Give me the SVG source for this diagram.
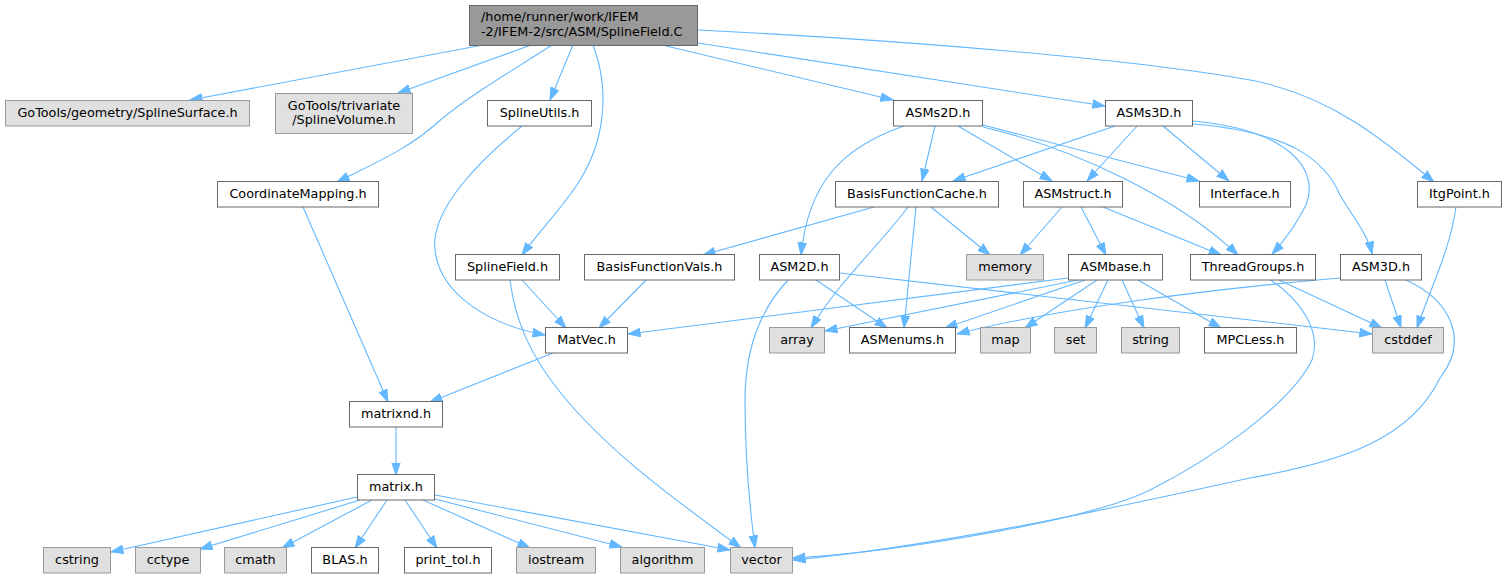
<svg xmlns="http://www.w3.org/2000/svg" width="1507" height="579" viewBox="0 0 1507 579">
<style>
.w{fill:#ffffff;stroke:#666666;stroke-width:1}
.g{fill:#e0e0e0;stroke:#999999;stroke-width:1}
.r{fill:#999999;stroke:#666666;stroke-width:1}
text{font-family:"DejaVu Sans","Liberation Sans",sans-serif;font-size:12.8px;fill:#000000;text-anchor:middle}
.e{fill:none;stroke:#63b8ff;stroke-width:1.1;marker-end:url(#arr)}
</style>
<defs>
<marker id="arr" markerUnits="userSpaceOnUse" markerWidth="13" markerHeight="10" viewBox="0 0 13 10" refX="12.5" refY="5" orient="auto">
<path d="M0,0.7 L12.5,5 L0,9.3 z" fill="#63b8ff" stroke="#63b8ff" stroke-width="1"/>
</marker>
</defs>
<rect width="1507" height="579" fill="#ffffff"/>
<g id="edges">
<path class="e" d="M483,45 L190,100"/>
<path class="e" d="M531,45 L398,93"/>
<path class="e" d="M552,45 C510,72 470,95 438,122 C410,148 375,163 337,182"/>
<path class="e" d="M573,45 L550,100"/>
<path class="e" d="M593,45 C610,90 605,140 580,180 C565,205 540,230 522,255"/>
<path class="e" d="M662,45 L893,100"/>
<path class="e" d="M698,43 L1105,106"/>
<path class="e" d="M698,30 C900,40 1150,60 1260,82 C1340,100 1395,150 1434,182"/>
<path class="e" d="M522,126 C480,160 430,210 435,250 C440,295 490,325 545,335"/>
<path class="e" d="M303,207 L388,402"/>
<path class="e" d="M522,280 L566,328"/>
<path class="e" d="M510,280 C515,320 530,355 560,392 C610,455 690,510 741,548"/>
<path class="e" d="M646,280 L599,328"/>
<path class="e" d="M935,126 L922,181"/>
<path class="e" d="M904,126 C840,148 808,185 801,255"/>
<path class="e" d="M958,126 L1052,181"/>
<path class="e" d="M983,125 L1199,181"/>
<path class="e" d="M983,127 C1080,150 1180,200 1238,255"/>
<path class="e" d="M1115,126 L953,181"/>
<path class="e" d="M1137,126 L1087,181"/>
<path class="e" d="M1163,126 L1229,181"/>
<path class="e" d="M1193,121 C1290,130 1320,170 1306,205 C1296,225 1285,240 1272,254"/>
<path class="e" d="M1193,124 C1290,132 1325,160 1340,195 C1355,220 1368,235 1372,254"/>
<path class="e" d="M874,207 L703,255"/>
<path class="e" d="M908,207 C880,245 840,280 811,328"/>
<path class="e" d="M916,207 L904,328"/>
<path class="e" d="M931,207 L990,255"/>
<path class="e" d="M1062,207 L1020,255"/>
<path class="e" d="M1081,207 L1106,255"/>
<path class="e" d="M1103,207 L1221,255"/>
<path class="e" d="M788,280 C760,310 745,350 745,400 C745,460 750,510 755,548"/>
<path class="e" d="M816,280 L887,328"/>
<path class="e" d="M840,273 L1372,334"/>
<path class="e" d="M1068,278 L628,334"/>
<path class="e" d="M1078,280 L825,331"/>
<path class="e" d="M1085,280 L945,328"/>
<path class="e" d="M1097,280 L1025,328"/>
<path class="e" d="M1108,280 L1085,328"/>
<path class="e" d="M1122,280 L1144,328"/>
<path class="e" d="M1138,280 L1221,328"/>
<path class="e" d="M1279,280 L1382,328"/>
<path class="e" d="M1271,280 C1300,300 1322,330 1312,360 C1290,405 1210,460 1150,490 C1090,520 900,552 793,558"/>
<path class="e" d="M1385,280 L1401,328"/>
<path class="e" d="M1340,278 C1200,290 1050,310 957,334"/>
<path class="e" d="M1406,280 C1450,300 1470,340 1440,378 C1410,440 1340,462 1250,478 C1150,500 950,545 793,560"/>
<path class="e" d="M1456,207 C1450,250 1430,290 1417,328"/>
<path class="e" d="M553,353 L430,402"/>
<path class="e" d="M396,427 L396,475"/>
<path class="e" d="M357,497 L111,552"/>
<path class="e" d="M360,500 L200,549"/>
<path class="e" d="M372,500 L282,548"/>
<path class="e" d="M387,500 L355,548"/>
<path class="e" d="M405,500 L437,548"/>
<path class="e" d="M423,500 L530,548"/>
<path class="e" d="M435,499 L622,547"/>
<path class="e" d="M435,495 L730,550"/>
</g>
<g id="n0"><rect class="r" x="469.5" y="5.5" width="228" height="40"/><text x="481" y="20.5" style="text-anchor:start">/home/runner/work/IFEM</text><text x="481" y="35.5" style="text-anchor:start">-2/IFEM-2/src/ASM/SplineField.C</text></g>
<g id="n1"><rect class="g" x="5.5" y="100.5" width="244" height="25.5"/><text x="127.5" y="117">GoTools/geometry/SplineSurface.h</text></g>
<g id="n2"><rect class="g" x="275.5" y="93.5" width="137" height="40"/><text x="344" y="109.5">GoTools/trivariate</text><text x="344" y="123.5">/SplineVolume.h</text></g>
<g id="n3"><rect class="w" x="487.5" y="100.5" width="104" height="25.5"/><text x="539.5" y="117">SplineUtils.h</text></g>
<g id="n4"><rect class="w" x="893.5" y="100.5" width="89" height="25.5"/><text x="938" y="117">ASMs2D.h</text></g>
<g id="n5"><rect class="w" x="1105.5" y="100.5" width="87" height="25.5"/><text x="1149" y="117">ASMs3D.h</text></g>
<g id="n6"><rect class="w" x="217.5" y="181.5" width="161" height="25.5"/><text x="298" y="198">CoordinateMapping.h</text></g>
<g id="n7"><rect class="w" x="835.5" y="181.5" width="163" height="25.5"/><text x="917" y="198">BasisFunctionCache.h</text></g>
<g id="n8"><rect class="w" x="1023.5" y="181.5" width="99" height="25.5"/><text x="1073" y="198">ASMstruct.h</text></g>
<g id="n9"><rect class="w" x="1199.5" y="181.5" width="91" height="25.5"/><text x="1245" y="198">Interface.h</text></g>
<g id="n10"><rect class="w" x="1417.5" y="181.5" width="84" height="25.5"/><text x="1459.5" y="198">ItgPoint.h</text></g>
<g id="n11"><rect class="w" x="455.5" y="254.5" width="104" height="25.5"/><text x="507.5" y="271">SplineField.h</text></g>
<g id="n12"><rect class="w" x="584.5" y="254.5" width="150" height="25.5"/><text x="659.5" y="271">BasisFunctionVals.h</text></g>
<g id="n13"><rect class="w" x="759.5" y="254.5" width="80" height="25.5"/><text x="799.5" y="271">ASM2D.h</text></g>
<g id="n14"><rect class="g" x="966.5" y="254.5" width="77" height="25.5"/><text x="1005" y="271">memory</text></g>
<g id="n15"><rect class="w" x="1068.5" y="254.5" width="94" height="25.5"/><text x="1115.5" y="271">ASMbase.h</text></g>
<g id="n16"><rect class="w" x="1190.5" y="254.5" width="125" height="25.5"/><text x="1253" y="271">ThreadGroups.h</text></g>
<g id="n17"><rect class="w" x="1340.5" y="254.5" width="81" height="25.5"/><text x="1381" y="271">ASM3D.h</text></g>
<g id="n18"><rect class="w" x="545.5" y="327.5" width="82" height="25.5"/><text x="586.5" y="344">MatVec.h</text></g>
<g id="n19"><rect class="g" x="769.5" y="327.5" width="55" height="25.5"/><text x="797" y="344">array</text></g>
<g id="n20"><rect class="w" x="849.5" y="327.5" width="106" height="25.5"/><text x="902.5" y="344">ASMenums.h</text></g>
<g id="n21"><rect class="g" x="980.5" y="327.5" width="50" height="25.5"/><text x="1005.5" y="344">map</text></g>
<g id="n22"><rect class="g" x="1054.5" y="327.5" width="42" height="25.5"/><text x="1075.5" y="344">set</text></g>
<g id="n23"><rect class="g" x="1121.5" y="327.5" width="58" height="25.5"/><text x="1150.5" y="344">string</text></g>
<g id="n24"><rect class="w" x="1204.5" y="327.5" width="92" height="25.5"/><text x="1250.5" y="344">MPCLess.h</text></g>
<g id="n25"><rect class="g" x="1372.5" y="327.5" width="71" height="25.5"/><text x="1408" y="344">cstddef</text></g>
<g id="n26"><rect class="w" x="349.5" y="401.5" width="93" height="25.5"/><text x="396" y="418">matrixnd.h</text></g>
<g id="n27"><rect class="w" x="357.5" y="474.5" width="77" height="25.5"/><text x="396" y="491">matrix.h</text></g>
<g id="n28"><rect class="g" x="43.5" y="547.5" width="67" height="25.5"/><text x="77" y="564">cstring</text></g>
<g id="n29"><rect class="g" x="135.5" y="547.5" width="65" height="25.5"/><text x="168" y="564">cctype</text></g>
<g id="n30"><rect class="g" x="224.5" y="547.5" width="62" height="25.5"/><text x="255.5" y="564">cmath</text></g>
<g id="n31"><rect class="w" x="311.5" y="547.5" width="67" height="25.5"/><text x="345" y="564">BLAS.h</text></g>
<g id="n32"><rect class="w" x="404.5" y="547.5" width="87" height="25.5"/><text x="448" y="564">print_tol.h</text></g>
<g id="n33"><rect class="g" x="516.5" y="547.5" width="79" height="25.5"/><text x="556" y="564">iostream</text></g>
<g id="n34"><rect class="g" x="620.5" y="547.5" width="84" height="25.5"/><text x="662.5" y="564">algorithm</text></g>
<g id="n35"><rect class="g" x="730.5" y="547.5" width="62" height="25.5"/><text x="761.5" y="564">vector</text></g>
</svg>
